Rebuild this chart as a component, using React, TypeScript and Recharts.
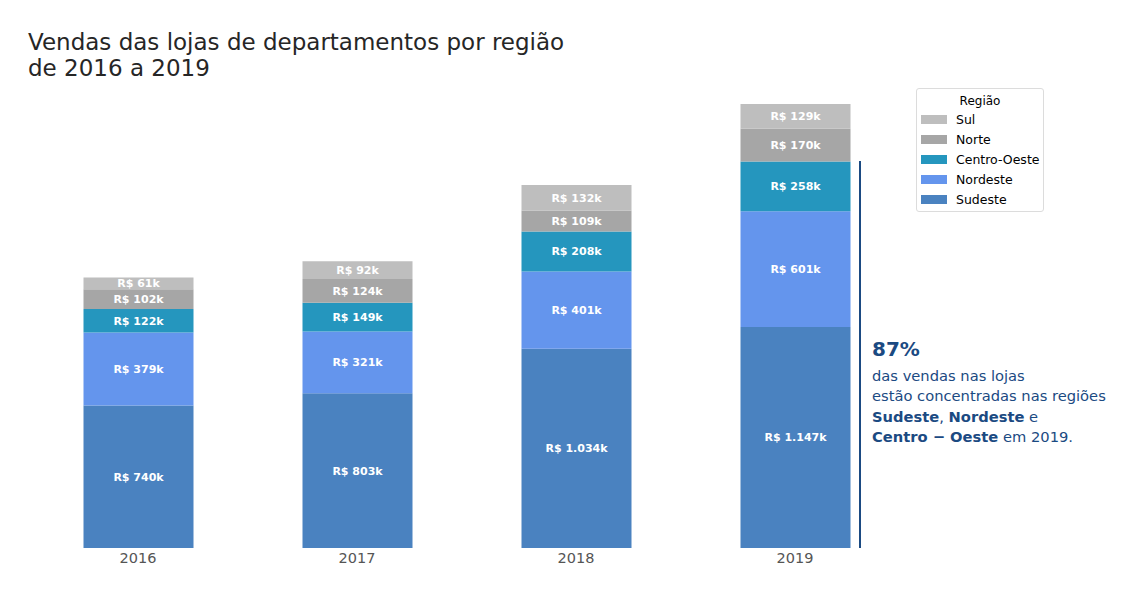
import React from 'react';
import { BarChart, Bar, XAxis, YAxis, LabelList } from 'recharts';

const years = ['2016', '2017', '2018', '2019'];
const sudeste = [740, 803, 1034, 1147];
const nordeste = [379, 321, 401, 601];
const centroOeste = [122, 149, 208, 258];
const norte = [102, 124, 109, 170];
const sul = [61, 92, 132, 129];

const series = [
  { key: 'Sudeste', values: sudeste, color: '#4a82c0' },
  { key: 'Nordeste', values: nordeste, color: '#6495ed' },
  { key: 'Centro-Oeste', values: centroOeste, color: '#2596be' },
  { key: 'Norte', values: norte, color: '#a6a6a6' },
  { key: 'Sul', values: sul, color: '#bebebe' },
];

const data = years.map((year, i) => {
  const row: Record<string, string | number> = { year };
  series.forEach((s) => {
    row[s.key] = s.values[i];
  });
  return row;
});

const FONT = '"DejaVu Sans", sans-serif';
const BLUE_TEXT = '#1b4a82';

const fmt = (v: number) => `R$ ${v.toLocaleString('pt-BR')}k`;

function LegendBox() {
  return (
    <div
      style={{
        position: 'absolute',
        left: 916,
        top: 88,
        width: 128,
        height: 124,
        border: '1px solid #dcdcdc',
        borderRadius: 3,
        background: '#fff',
        fontFamily: FONT,
        fontSize: 12.5,
        color: '#000',
        padding: '3px 0 0 0',
        boxSizing: 'border-box',
        whiteSpace: 'nowrap',
      }}
    >
      <div style={{ textAlign: 'center', fontSize: 12, height: 18, lineHeight: '18px' }}>
        Região
      </div>
      {[...series].reverse().map((s) => (
        <div key={s.key} style={{ display: 'flex', alignItems: 'center', height: 19.8 }}>
          <span
            style={{
              display: 'inline-block',
              width: 26,
              height: 9,
              background: s.color,
              marginLeft: 4,
              marginRight: 9,
            }}
          />
          <span>{s.key}</span>
        </div>
      ))}
    </div>
  );
}

export default function App() {
  return (
    <div
      style={{
        position: 'absolute',
        left: 0,
        top: 0,
        width: 1124,
        height: 590,
        background: '#fff',
        fontFamily: FONT,
      }}
    >
      <div
        style={{
          position: 'absolute',
          left: 28,
          top: 29,
          fontSize: 23,
          lineHeight: '26px',
          color: '#262626',
          whiteSpace: 'nowrap',
        }}
      >
        Vendas das lojas de departamentos por região
        <br />
        de 2016 a 2019
      </div>

      <BarChart
        width={1124}
        height={590}
        data={data}
        margin={{ top: 104, right: 219.5, bottom: 12, left: 28.5 }}
        barCategoryGap={0}
        style={{ position: 'absolute', left: 0, top: 0 }}
      >
        <XAxis
          dataKey="year"
          axisLine={false}
          tickLine={false}
          height={30}
          tick={{ fill: '#555', fontSize: 14.5, fontFamily: FONT }}
          tickMargin={-1}
        />
        <YAxis hide domain={[0, 2305]} />
        {series.map((s) => (
          <Bar
            key={s.key}
            dataKey={s.key}
            stackId="a"
            fill={s.color}
            barSize={110}
            isAnimationActive={false}
          >
            <LabelList
              dataKey={s.key}
              position="center"
              formatter={(v: number) => fmt(v)}
              style={{ fill: '#fff', fontSize: 11, fontWeight: 'bold', fontFamily: FONT }}
            />
          </Bar>
        ))}
      </BarChart>

      <LegendBox />

      <div
        style={{
          position: 'absolute',
          left: 859,
          top: 161,
          width: 1.5,
          height: 387,
          background: BLUE_TEXT,
        }}
      />
      <div
        style={{
          position: 'absolute',
          left: 872,
          top: 336,
          color: BLUE_TEXT,
          fontSize: 14.7,
          lineHeight: '20px',
          whiteSpace: 'nowrap',
        }}
      >
        <div style={{ fontSize: 20, fontWeight: 'bold', lineHeight: '26px', marginBottom: 4 }}>87%</div>
        <div>das vendas nas lojas</div>
        <div>estão concentradas nas regiões</div>
        <div style={{ marginTop: 1 }}>
          <b>Sudeste</b>, <b>Nordeste</b> e
        </div>
        <div>
          <b>Centro − Oeste</b> em 2019.
        </div>
      </div>
    </div>
  );
}
